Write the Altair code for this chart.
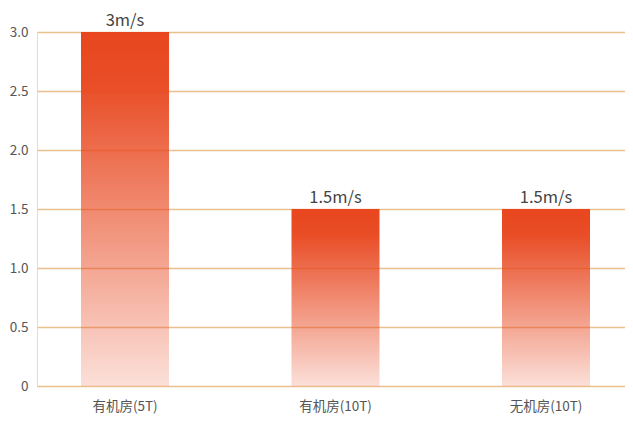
import altair as alt
import pandas as pd

categories = ["有机房(5T)", "有机房(10T)", "无机房(10T)"]
speeds = [3.0, 1.5, 1.5]
speed_labels = ["3m/s", "1.5m/s", "1.5m/s"]
y_ticks = [0, 0.5, 1.0, 1.5, 2.0, 2.5, 3.0]

df = pd.DataFrame({"cat": categories, "v": speeds, "lab": speed_labels})

FONT = "Noto Sans CJK SC"

x_enc = alt.X("cat:N", sort=categories, title=None,
              scale=alt.Scale(paddingInner=0.582, paddingOuter=0.209, range=[0, 597]),
              axis=alt.Axis(labelAngle=0, domain=False, ticks=False, labelPadding=13,
                            labelFontSize=13.5, labelColor="#555555", labelFont=FONT, grid=False))
y_enc = alt.Y("v:Q", title=None,
              scale=alt.Scale(domain=[0, 3], nice=False),
              axis=alt.Axis(values=y_ticks, domain=False, ticks=False, labelPadding=9,
                            labelFontSize=13.5, labelColor="#555555", labelFont=FONT,
                            gridColor="#EBC08E", gridWidth=1.5, gridOpacity=1,
                            labelExpr="datum.value == 0 ? '0' : format(datum.value, '.1f')"))

grad = alt.Gradient(
    gradient="linear", x1=0, y1=0, x2=0, y2=1,
    stops=[
        alt.GradientStop(color="rgba(232,70,30,1)", offset=0),
        alt.GradientStop(color="rgba(232,72,32,0.97)", offset=0.15),
        alt.GradientStop(color="rgba(232,70,30,0.17)", offset=1),
    ],
)

bars = alt.Chart(df).mark_bar(fill=grad).encode(x=x_enc, y=y_enc)
texts = alt.Chart(df).mark_text(baseline="alphabetic", dy=-6, fontSize=16.5,
                                color="#444444", font=FONT).encode(
    x=alt.X("cat:N", sort=categories), y="v:Q", text="lab:N")

chart = (bars + texts).properties(
    width=588, height=354,
    autosize=alt.AutoSizeParams(type="none"),
    padding={"left": 29, "top": 24, "right": 0, "bottom": 32},
).configure_view(stroke=None).configure(background="white")

chart.save("out.html", embed_options={"renderer": "svg", "actions": False})
